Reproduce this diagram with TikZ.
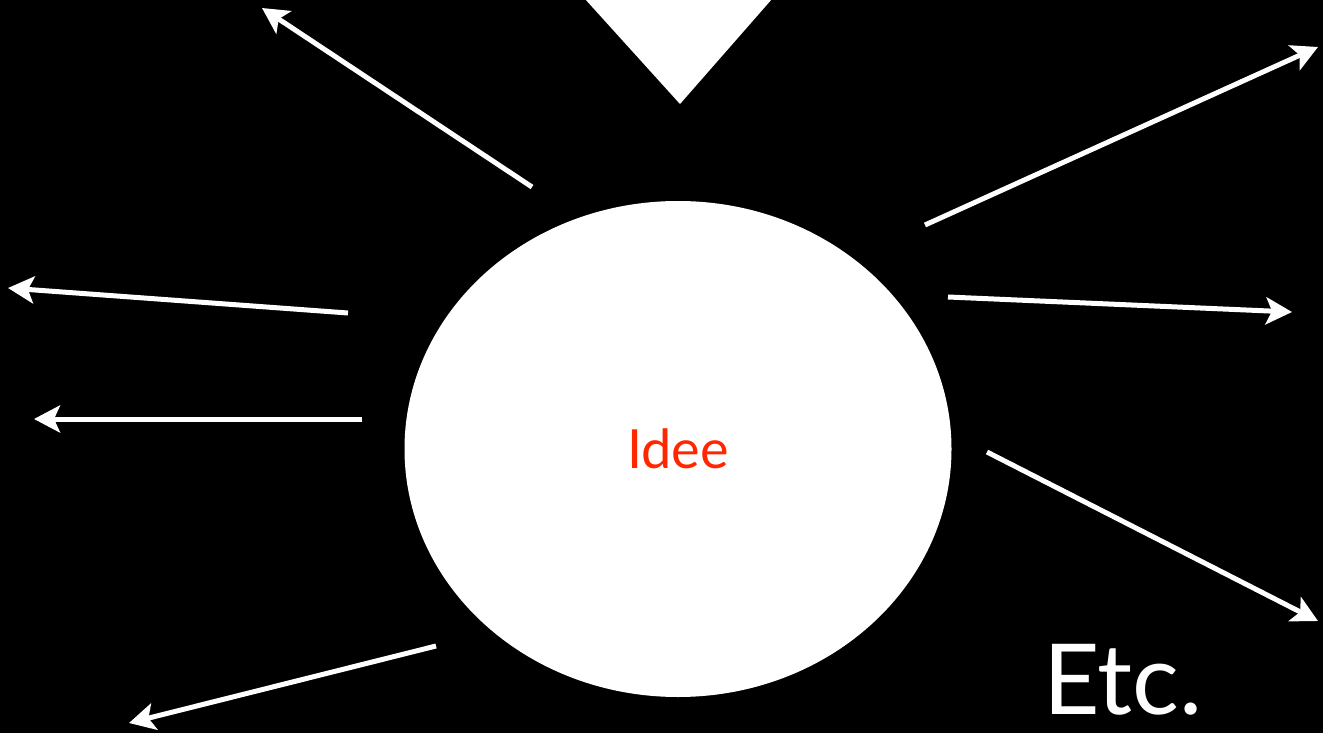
\documentclass[tikz,border=0pt]{standalone}
\usepackage{fontspec}
\setmainfont{Lato}
\usepackage{tikz}
\usetikzlibrary{arrows.meta,shapes.geometric}
\definecolor{ideered}{RGB}{255,38,0}

\begin{document}
\begin{tikzpicture}[x=1pt,y=-1pt,
    ray/.style={draw=white,line width=5pt,-{Stealth[length=26pt,width=27pt,inset=6pt]}}]
  \fill[black] (0,0) rectangle (1323,733);
  \useasboundingbox (0,0) rectangle (1323,733);
  \fill[white] (585,-1) -- (772,-1) -- (680,104) -- cycle;
  \node[ellipse,fill=white,inner sep=0pt,minimum width=547pt,minimum height=496pt,
        text=ideered,font=\fontsize{54}{60}\selectfont] (idee) at (678,449) {Idee};
  \node[text=white,font=\fontsize{98}{104}\selectfont,inner sep=0pt,anchor=base] (etc) at (1123,714) {Etc.};
  % rays out of the idea
  \foreach \n/\a/\b/\c/\d in {1/532/187/262/8, 2/925/225/1318/47, 3/348/313/8/288,
      4/948/297/1292/312, 5/362/419/34/419, 6/987/452/1318/621, 7/436/646/129/723} {
    \coordinate (s\n) at (\a,\b);
    \coordinate (t\n) at (\c,\d);
    \draw[ray] (s\n) -- (t\n);
  }
\end{tikzpicture}
\end{document}
